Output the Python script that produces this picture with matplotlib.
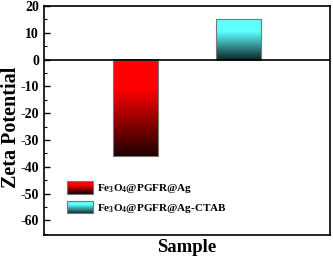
import numpy as np
import matplotlib.pyplot as plt
import matplotlib as mpl
from matplotlib.patches import Rectangle
from matplotlib.legend_handler import HandlerBase
from matplotlib.colors import LinearSegmentedColormap

mpl.rc('font', family='Liberation Serif', weight='bold')
mpl.rcParams['mathtext.fontset'] = 'custom'
mpl.rcParams['mathtext.rm'] = 'Liberation Serif:bold'
mpl.rcParams['mathtext.bf'] = 'Liberation Serif:bold'
mpl.rcParams['axes.unicode_minus'] = False

samples = ['Fe$_3$O$_4$@PGFR@Ag', 'Fe$_3$O$_4$@PGFR@Ag-CTAB']
zeta = [-36, 15]
positions = [1, 2]
# gradient colours: (bright end at zero line, dark end)
grad = [((1.0, 0.0, 0.0), (0.12, 0.0, 0.0)),
        ((0.38, 1.0, 1.0), (0.03, 0.15, 0.15))]

fig = plt.figure(figsize=(3.33, 2.58), dpi=100)
ax = fig.add_axes([0.132, 0.089, 0.859, 0.888])

bar_w = 0.435
for x, v, (c_hi, c_lo) in zip(positions, zeta, grad):
    cmap = LinearSegmentedColormap.from_list('g', [(0, c_lo), (0.7, c_hi), (1, c_hi)])
    img = np.linspace(0, 1, 100).reshape(-1, 1)
    if v < 0:
        ext = [x - bar_w / 2, x + bar_w / 2, v, 0]
    else:
        ext = [x - bar_w / 2, x + bar_w / 2, 0, v]
    ax.imshow(img, cmap=cmap, extent=ext, origin='lower', aspect='auto', zorder=2)
    ax.add_patch(Rectangle((x - bar_w / 2, min(v, 0)), bar_w, abs(v),
                           fill=False, edgecolor='#777777', lw=0.8, zorder=3))

ax.axhline(0, color='black', lw=1.2, zorder=4)
ax.set_xlim(0.116, 2.88)
ax.set_ylim(-65.5, 20)
ax.set_xticks([])
ax.set_yticks(np.arange(-60, 21, 10))
ax.set_yticks(np.arange(-65, 21, 5), minor=True)
ax.tick_params(axis='y', which='major', direction='in', length=4, width=1, labelsize=10)
ax.tick_params(axis='y', which='minor', direction='in', length=2, width=0.8)
for s in ax.spines.values():
    s.set_linewidth(1.2)
ax.set_ylabel('Zeta Potential', fontsize=14.5, fontweight='bold')
ax.yaxis.set_label_coords(-0.08, 0.47)
ax.set_xlabel('Sample', fontsize=13.5, fontweight='bold', labelpad=3)


class GradHandler(HandlerBase):
    def __init__(self, c_hi, c_lo):
        super().__init__()
        self.c_hi = np.array(c_hi)
        self.c_lo = np.array(c_lo)

    def create_artists(self, legend, orig_handle, xdescent, ydescent,
                       width, height, fontsize, trans):
        arts = []
        n = 14
        for i in range(n):
            f = min(1.0, (i / (n - 1)) / 0.7)
            col = self.c_lo * (1 - f) + self.c_hi * f
            arts.append(Rectangle((-xdescent, -ydescent + height * i / n), width,
                                  height / n, facecolor=col, edgecolor='none',
                                  transform=trans))
        arts.append(Rectangle((-xdescent, -ydescent), width, height, fill=False,
                              edgecolor='#777777', lw=0.8, transform=trans))
        return arts


handles = [Rectangle((0, 0), 1, 1) for _ in samples]
ax.legend(handles, samples, loc='lower left', bbox_to_anchor=(0.045, 0.045),
          frameon=False, fontsize=8, handlelength=2.4, handleheight=1.4,
          labelspacing=0.5, handletextpad=0.35,
          handler_map={h: GradHandler(*g) for h, g in zip(handles, grad)})

fig.savefig('out.png', dpi=100)
